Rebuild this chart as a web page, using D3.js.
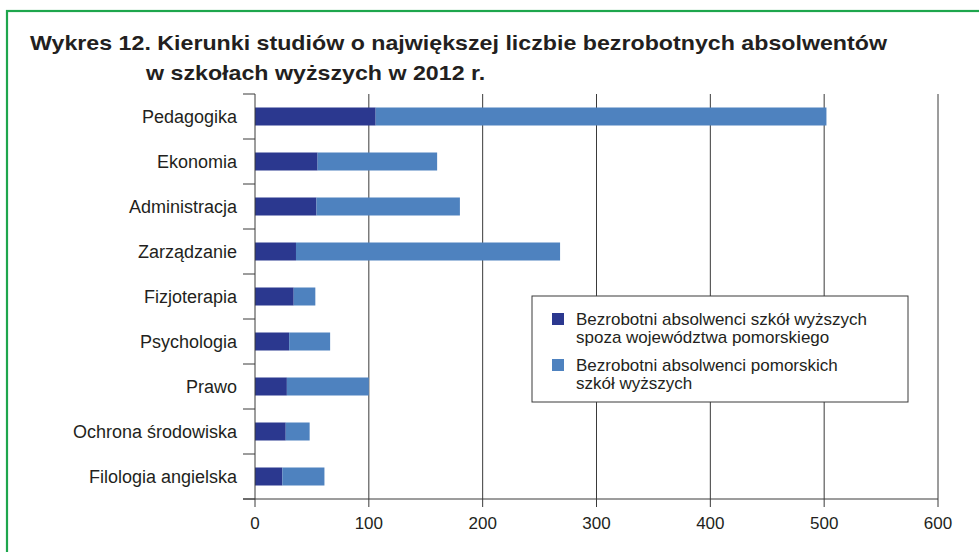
<!DOCTYPE html>
<html>
<head>
<meta charset="utf-8">
<script src="https://cdn.jsdelivr.net/npm/d3@7"></script>
<style>
	body { margin: 0; background: #fff; }
	svg { display: block; font-family: "Liberation Sans", Arial, sans-serif; }
</style>
</head>
<body>
<div id="chartsArea"></div>
<script>
// chart data
var categories = ["Pedagogika", "Ekonomia", "Administracja", "Zarządzanie", "Fizjoterapia",
	"Psychologia", "Prawo", "Ochrona środowiska", "Filologia angielska"];
var spoza = [106, 55, 54, 36, 34, 30, 28, 27, 24];
var pomorskie = [396, 105, 126, 232, 19, 36, 72, 21, 37];
var xTicks = [0, 100, 200, 300, 400, 500, 600];
var seriesNames = [
	["Bezrobotni absolwenci szkół wyższych", "spoza województwa pomorskiego"],
	["Bezrobotni absolwenci pomorskich", "szkół wyższych"]
];
var titleLines = ["Wykres 12. Kierunki studiów o największej liczbie bezrobotnych absolwentów",
	"w szkołach wyższych w 2012 r."];

var colors = ["#2b388f", "#4e82bf"];
var txt = "#231f20";

var W = 979, H = 552;
var svg = d3.select("#chartsArea").append("svg").attr("width", W).attr("height", H);

// green frame (runs off right and bottom)
svg.append("rect")
	.attr("x", 7).attr("y", 11)
	.attr("width", W + 20).attr("height", H + 20)
	.attr("fill", "none")
	.attr("stroke", "#1ea64d")
	.attr("stroke-width", 2.2);

// title, squeezed like a narrow face
var t1 = svg.append("text").attr("x", 30).attr("y", 50)
	.attr("font-size", 21).attr("font-weight", "bold").attr("fill", txt)
	.text(titleLines[0]);
var k = 857 / t1.node().getComputedTextLength();
t1.attr("textLength", 857).attr("lengthAdjust", "spacingAndGlyphs");
var t2 = svg.append("text").attr("x", 146).attr("y", 80)
	.attr("font-size", 21).attr("font-weight", "bold").attr("fill", txt)
	.text(titleLines[1]);
t2.attr("textLength", t2.node().getComputedTextLength() * k).attr("lengthAdjust", "spacingAndGlyphs");

var x = d3.scaleLinear().domain([0, 600]).range([255, 938]);
var y = d3.scaleBand().domain(categories).range([94, 499]).paddingInner(0.6).paddingOuter(0.3);
var step = y.step();

var g = svg.append("g");

// vertical grid lines
g.selectAll("line.grid")
	.data(xTicks.slice(1))
	.enter().append("line")
	.attr("class", "grid")
	.attr("x1", function(d) { return x(d); })
	.attr("x2", function(d) { return x(d); })
	.attr("y1", 94).attr("y2", 507)
	.attr("stroke", "#3a3a3a").attr("stroke-width", 1);

// stacked bars
var stackData = categories.map(function(c, i) {
	return {cat: c, a: spoza[i], b: pomorskie[i]};
});
var stack = d3.stack().keys(["a", "b"])(stackData);

g.selectAll("g.series")
	.data(stack)
	.enter().append("g")
	.attr("fill", function(d, i) { return colors[i]; })
	.selectAll("rect")
	.data(function(d) { return d; })
	.enter().append("rect")
	.attr("x", function(d) { return x(d[0]); })
	.attr("width", function(d) { return x(d[1]) - x(d[0]); })
	.attr("y", function(d) { return y(d.data.cat); })
	.attr("height", y.bandwidth());

// y axis with ticks between categories
g.append("line")
	.attr("x1", x(0)).attr("x2", x(0))
	.attr("y1", 94).attr("y2", 507)
	.attr("stroke", "#3a3a3a");
g.selectAll("line.ytick")
	.data(d3.range(categories.length + 1))
	.enter().append("line")
	.attr("class", "ytick")
	.attr("x1", 243).attr("x2", x(0))
	.attr("y1", function(i) { return 94 + i * step; })
	.attr("y2", function(i) { return 94 + i * step; })
	.attr("stroke", "#3a3a3a");

// x axis
g.append("line")
	.attr("x1", 243).attr("x2", x(600))
	.attr("y1", 499).attr("y2", 499)
	.attr("stroke", "#3a3a3a");
g.selectAll("text.xlab")
	.data(xTicks)
	.enter().append("text")
	.attr("x", function(d) { return x(d); })
	.attr("y", 529)
	.attr("text-anchor", "middle")
	.attr("font-size", 17)
	.attr("fill", txt)
	.text(function(d) { return d; });

// category labels
g.selectAll("text.cat")
	.data(categories)
	.enter().append("text")
	.attr("x", 237)
	.attr("y", function(d) { return y(d) + y.bandwidth() / 2; })
	.attr("dy", "0.35em")
	.attr("text-anchor", "end")
	.attr("font-size", 18)
	.attr("fill", txt)
	.text(function(d) { return d; });

// legend
var lg = svg.append("g").attr("transform", "translate(532,296)");
lg.append("rect")
	.attr("width", 376).attr("height", 106)
	.attr("fill", "#fff").attr("stroke", "#3a3a3a").attr("stroke-width", 1);
var items = lg.selectAll("g.item")
	.data(seriesNames)
	.enter().append("g")
	.attr("transform", function(d, i) { return "translate(0," + i * 46 + ")"; });
items.append("rect")
	.attr("x", 20).attr("y", 17)
	.attr("width", 12).attr("height", 12)
	.attr("fill", function(d, i) { return colors[i]; });
items.append("text")
	.attr("font-size", 17)
	.attr("fill", txt)
	.selectAll("tspan")
	.data(function(d) { return d; })
	.enter().append("tspan")
	.attr("x", 44)
	.attr("y", function(d, j) { return 29 + j * 18; })
	.text(function(d) { return d; });
</script>
</body>
</html>
